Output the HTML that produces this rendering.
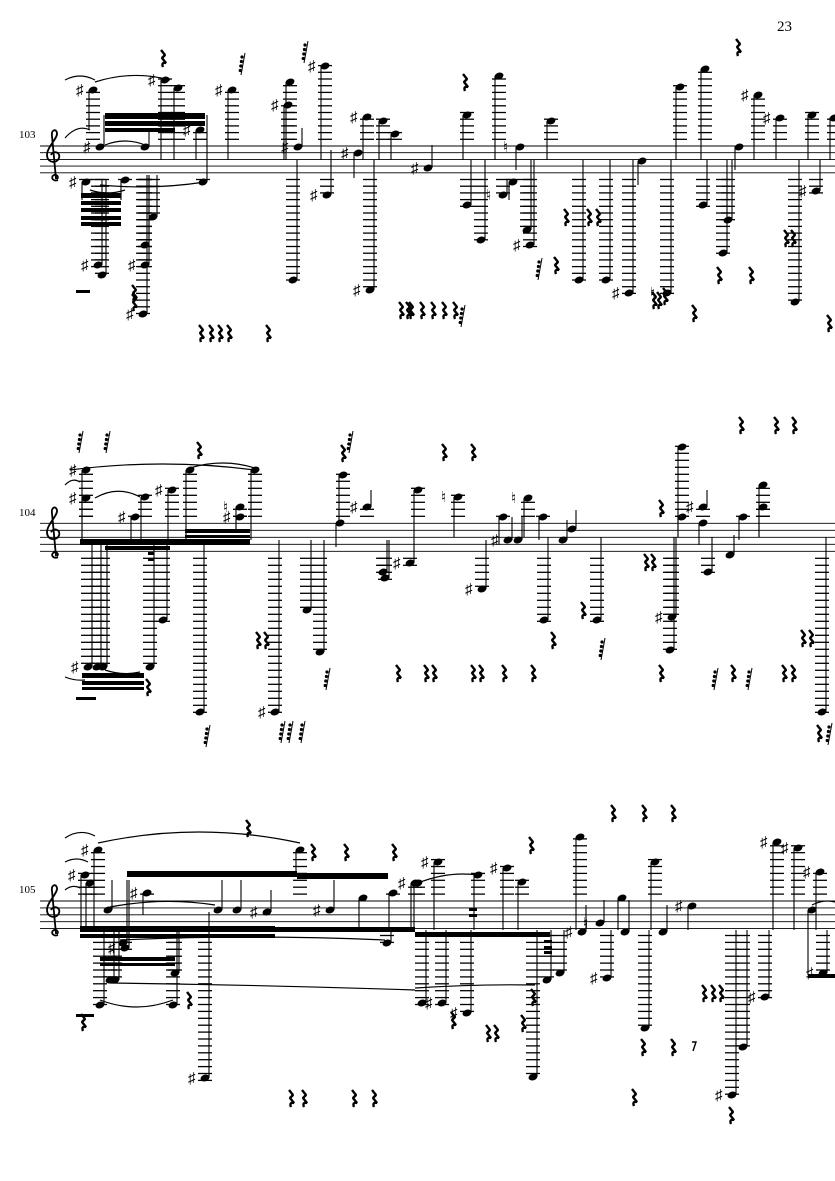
<!DOCTYPE html>
<html><head><meta charset="utf-8"><style>
html,body{margin:0;padding:0;background:#fff;}
svg{display:block;}
text{font-family:"Liberation Serif","DejaVu Serif",serif;fill:#000;}
</style></head><body>
<svg id="s" width="835" height="1181" viewBox="0 0 835 1181" xmlns="http://www.w3.org/2000/svg">
<text x="777" y="31" font-size="15">23</text>
<text x="19" y="138" font-size="11">103</text>
<text x="19" y="516" font-size="11">104</text>
<text x="19" y="893" font-size="11">105</text>
</svg>
<script>
var S=document.getElementById('s'),NS='http://www.w3.org/2000/svg';
function el(t,a){var e=document.createElementNS(NS,t);for(var k in a)e.setAttribute(k,a[k]);S.appendChild(e);return e;}
var staves=[{t:146,sp:6.7},{t:523.3,sp:7},{t:901,sp:6.9}];
var cur;
staves.forEach(function(st){
  for(var i=0;i<5;i++)el('line',{x1:40,x2:835,y1:st.t+i*st.sp,y2:st.t+i*st.sp,stroke:'#000','stroke-width':0.9});
  var t=st.t;
  el('path',{d:'M58,'+(t+34)+' c-5,2 -8,-3 -4,-5 c3,-1 5,2 3,4 M56,'+(t+33)+' L52,'+(t-10)+' c-1,-6 4,-8 5,-3 c1,5 -10,14 -10,22 c0,8 10,9 12,3 c2,-6 -6,-8 -8,-3',fill:'none',stroke:'#000','stroke-width':1.8});
});
function st(i){cur=staves[i];}
function n(x,y,se,acc){
  var s=cur,top=s.t,bot=s.t+4*s.sp,mid=s.t+2*s.sp;
  if(se===undefined||se===null)se=mid;
  var k;
  if(y<top-3){for(k=1;top-k*s.sp>=y-2.5;k++)el('line',{x1:x-7,x2:x+7,y1:top-k*s.sp,y2:top-k*s.sp,stroke:'#000','stroke-width':1.3});}
  if(y>bot+3){for(k=1;bot+k*s.sp<=y+2.5;k++)el('line',{x1:x-7,x2:x+7,y1:bot+k*s.sp,y2:bot+k*s.sp,stroke:'#000','stroke-width':1.3});}
  el('ellipse',{cx:x,cy:y,rx:4.6,ry:3.3,transform:'rotate(-20 '+x+' '+y+')',fill:'#000'});
  if(se!==y){var sx=se<y?x+4:x-4;el('line',{x1:sx,x2:sx,y1:y,y2:se,stroke:'#000','stroke-width':1.1});}
  if(acc){var tx=el('text',{x:x-17,y:y+5,'font-size':15,'font-family':'DejaVu Sans, sans-serif'});tx.textContent=acc;}
}
function r(x,y){el('path',{d:'M'+(x-1)+','+(y-8)+' l4,5 l-3,3 l4,5 q-5,-1 -3,4',fill:'none',stroke:'#000','stroke-width':2.4,'stroke-linejoin':'bevel'});}
function fr(x,y){el('line',{x1:x,y1:y-12,x2:x-4,y2:y+10,stroke:'#000','stroke-width':1});for(var i=0;i<4;i++)el('circle',{cx:x-3-i*0.6,cy:y-8+i*4.5,r:1.6,fill:'#000'});}
function b(x,y,w,h){el('rect',{x:x,y:y,width:w,height:h,fill:'#000'});}
function arc(x1,y1,x2,y2,h){el('path',{d:'M'+x1+','+y1+' Q'+((x1+x2)/2)+','+(Math.min(y1,y2)-h)+' '+x2+','+y2,fill:'none',stroke:'#000','stroke-width':1.2});}
var sh='\u266F',na='\u266E';
/* ===== staff 1 ===== */
st(0);
n(93,90,130,sh);n(100,147,115,sh);n(145,147,128);
n(165,80,160,sh);n(178,88,160);n(203,182,115);n(200,130,160,sh);
n(232,90,160,sh);n(290,82,160);n(288,105,160,sh);n(298,147,128,sh);
n(325,66,160,sh);n(367,117,160,sh);n(383,121,160);n(395,134,160);
n(327,195,150,sh);n(358,153,178,sh);
n(86,182,200,sh);n(125,180,200);n(98,265,180,sh);n(102,275,180);
n(153,217,175);n(145,245,175);n(145,265,175,sh);n(143,314,175,sh);
n(293,280,160);n(370,290,160,sh);
b(105,113,100,6);b(105,121,100,5);b(105,128,70,4);b(81,193,40,5);b(81,201,40,4);b(81,208,40,4);b(81,216,40,4);b(81,222,40,4);
arc(65,80,95,80,8);arc(95,82,170,80,10);arc(105,145,145,145,8);arc(65,138,90,130,6);arc(100,185,205,182,-8);arc(90,190,125,190,-6);
n(428,168,145,sh);n(467,115,160);n(499,76,160);n(520,147,170,na);n(551,121,160);
n(467,205,160);n(481,240,160);n(503,195,180,na);n(513,182,200);n(527,230,160);n(530,245,160,sh);
n(579,280,160);n(606,280,160);n(629,293,160,sh);n(642,161,185);n(667,293,160,na);
n(680,87,160);n(705,69,160);n(703,205,160);n(723,253,160);n(728,220,160);
n(739,147,170);n(758,95,160,sh);n(780,118,160,sh);n(812,115,160);
n(795,302,160);n(816,191,160,sh);n(834,118,160);
[[200,333],[210,333],[219,333],[228,333],[267,333],[400,310],[407,310],[410,310],[421,310],[432,310],[443,310],[454,310],
 [464,82],[162,58],[565,217],[588,217],[597,217],[555,265],[653,300],[658,300],[664,296],[693,313],[718,275],[750,275],[737,47],[785,238],[792,238],[828,323],[133,293],[133,302]].forEach(function(p){r(p[0],p[1]);});
fr(245,65);fr(308,53);fr(542,270);fr(465,317);b(76,290,14,3);
/* ===== staff 2 ===== */
st(1);
n(86,470,543,sh);n(86,498,543,sh);n(145,497,543);n(135,517,543,sh);n(172,490,540,sh);n(190,470,540);n(255,470,540);
n(240,507,530,na);n(240,517,530,sh);
n(88,667,545,sh);n(97,667,545);n(103,667,545);n(150,667,545);n(163,620,545);n(200,712,540);n(275,712,540,sh);
n(307,610,540);n(320,652,540);n(343,475,523);n(340,523,547);n(367,507,490,sh);
n(383,572,540);n(385,578,540);n(410,563,540,sh);
b(80,539,170,6);b(105,546,65,4);b(185,529,65,4);b(185,535,65,3);b(82,673,62,5);b(82,681,62,4);b(82,687,62,3);b(148,552,6,3);b(148,558,6,3);
arc(70,470,255,470,12);arc(190,468,255,468,10);arc(95,498,140,497,12);arc(65,677,85,680,-4);arc(105,670,140,672,-6);arc(65,485,80,482,5);
b(76,697,20,3);
n(418,490,540);n(458,497,537,na);n(482,589,540,sh);n(503,517,545);n(508,540,517,sh);n(518,540,517);n(528,498,537,na);
n(543,517,540);n(544,620,537);n(563,540,520);n(572,529,510);n(597,620,537);
n(682,447,537);n(682,517,537);n(670,650,537);n(672,617,537,sh);n(703,507,490,sh);n(703,523,545);n(708,572,537);
n(743,517,540);n(730,555,535);n(763,507,537);n(763,485,537);n(822,712,537);
[[198,450],[342,453],[147,687],[397,673],[257,640],[265,640],
 [443,452],[472,452],[740,425],[775,425],[793,425],[660,508],[645,562],[652,562],[582,610],[552,640],
 [425,673],[433,673],[472,673],[480,673],[503,673],[532,673],[660,673],[732,673],[783,673],[792,673],[802,638],[810,638],[818,733]].forEach(function(p){r(p[0],p[1]);});
[[83,443],[110,443],[353,443],[210,737],[330,680],[285,733],[293,733],[305,733],[605,650],[718,680],[752,680],[832,735]].forEach(function(p){fr(p[0],p[1]);});
/* ===== staff 3 ===== */
st(2);
n(98,850,930,sh);n(300,850,875);n(85,875,930,sh);n(90,883,930);
n(108,910,880);n(147,893,915,sh);n(218,910,880);n(237,910,880);n(267,912,890,sh);
n(330,910,880,sh);n(363,898,930);n(393,893,930);n(415,883,930,sh);
n(123,943,880);n(125,948,880,sh);n(110,980,930);n(115,980,930);n(100,1005,930);n(173,1005,930);n(175,973,930);
n(205,1078,912,sh);n(387,943,930);
b(127,871,170,6);b(297,873,91,6);b(80,926,195,6);b(80,934,195,4);b(275,927,140,5);b(100,957,75,4);b(100,963,75,3);
arc(98,843,300,843,22);arc(65,838,95,836,8);arc(65,862,88,862,6);arc(110,907,215,905,8);arc(120,940,385,940,6);arc(65,890,80,888,4);
arc(100,1000,173,1000,-14);arc(110,983,415,990,-2);
n(418,883,930);n(438,862,930,sh);n(478,875,930);n(507,868,930,sh);n(522,882,930);n(580,837,930);
n(582,932,905,sh);n(600,923,900,na);n(622,898,930);n(625,932,900);n(655,862,930);n(663,932,905);n(692,906,930,sh);
n(777,842,930,sh);n(798,848,930,sh);n(820,872,930,sh);n(812,910,975);
n(422,1003,930);n(442,1003,930,sh);n(467,1013,930,sh);n(533,1077,930);n(547,980,930);n(560,973,930);n(607,978,930,sh);
n(645,1028,930);n(743,1047,930);n(732,1095,930,sh);n(765,997,930,sh);n(823,973,930,sh);
b(415,932,135,5);b(808,974,27,4);b(544,940,8,3);b(544,946,8,3);b(544,951,8,3);b(469,908,8,3);b(469,914,8,3);
arc(418,883,478,875,4);arc(415,988,535,985,1);arc(812,905,835,902,3);
[[247,828],[312,852],[345,852],[393,852],[188,1000],[82,1022],[290,1098],[303,1098],[353,1098],[373,1098],
 [530,845],[612,813],[643,813],[672,813],[487,1033],[495,1033],[522,1023],[532,997],[703,993],[712,993],[720,993],
 [642,1047],[672,1047],[633,1097],[730,1115],[452,1020]].forEach(function(p){r(p[0],p[1]);});
b(76,1014,18,3);
el('path',{d:'M692,1042 l4,0 l-3,9',fill:'none',stroke:'#000','stroke-width':1.4});
</script>
</body></html>
